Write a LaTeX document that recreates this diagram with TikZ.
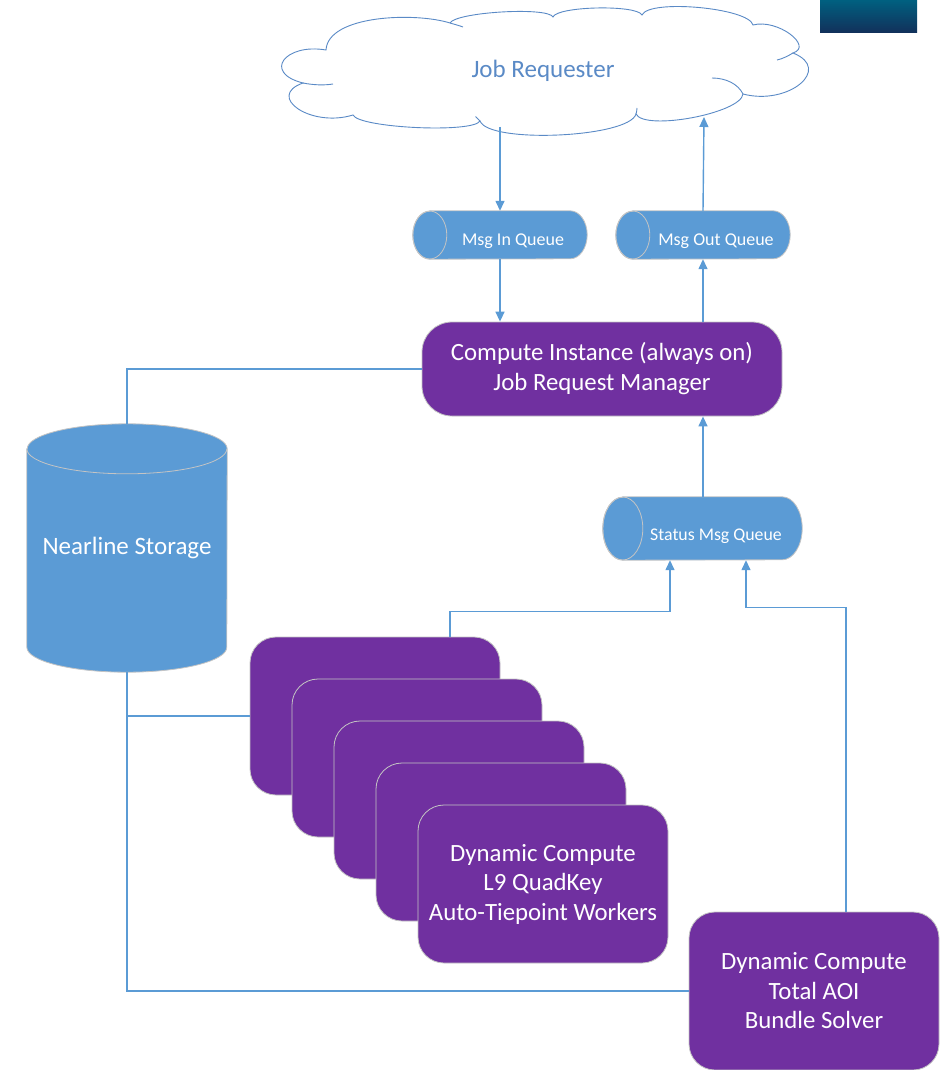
\documentclass[tikz,border=0pt]{standalone}
\usepackage{fontspec}
\setmainfont{Carlito}
\usetikzlibrary{arrows.meta,calc}
\definecolor{cpurple}{HTML}{7030A0}
\definecolor{cblue}{HTML}{5B9BD5}
\definecolor{cline}{HTML}{5B9BD5}
\definecolor{cloudc}{HTML}{5A8AC6}
\definecolor{edgegray}{HTML}{C4C4C4}
\definecolor{logotop}{HTML}{006080}
\definecolor{logobot}{HTML}{12305A}
\newcommand\hqshape[3]{%
  \path[qfill] ([xshift=#2]#1.north west) -- ([xshift=-#2]#1.north east)
    arc[start angle=90,end angle=-90,x radius=#2,y radius=#3]
    -- ([xshift=#2]#1.south west)
    arc[start angle=270,end angle=90,x radius=#2,y radius=#3] -- cycle;
  \draw[edgegray,line width=0.8pt] ([xshift=#2]#1.west) ellipse[x radius=#2,y radius=#3];
}
\begin{document}
\begin{tikzpicture}[x=1pt,y=-1pt,
  conn/.style={draw=cline, line width=1.4pt},
  arr/.style={conn, -{Triangle[width=9pt,length=10pt]}},
  qfill/.style={fill=cblue, draw=edgegray, line width=0.8pt},
  holder/.style={rectangle, draw=none, inner sep=0pt},
  qtext/.style={text=white, font=\fontsize{18}{20}\selectfont, inner sep=0pt},
  cloudline/.style={draw=cloudc, line width=0.9pt},
  pbox/.style={rectangle, rounded corners=26pt, fill=cpurple, draw=edgegray, line width=0.8pt,
    text=white, font=\fontsize{24.8}{29.5}\selectfont, align=center,
    minimum width=250pt, minimum height=158pt, inner sep=0pt},
]
\useasboundingbox (0,0) rectangle (948,1070);

% logo block
\node[rectangle, inner sep=0pt, minimum width=97pt, minimum height=33pt,
  top color=logotop, bottom color=logobot] (logo) at (868.5,16.5) {};

% cloud
\path[cloudline, fill=white] (326,50)
  .. controls (328,15) and (415,12) .. (450,23)
  .. controls (456,12) and (548,6.6) .. (553,17)
  .. controls (556.8,6.2) and (636.8,4.4) .. (642,15)
  .. controls (648.9,-1.2) and (748.8,7.8) .. (753,25)
  .. controls (777.7,18.4) and (813.7,46.4) .. (793,53)
  .. controls (833.2,69) and (788.2,106) .. (743,94)
  .. controls (741,113.3) and (644.6,131.3) .. (636,114)
  .. controls (629.3,137.6) and (488.8,144) .. (480,121)
  .. controls (473,133.4) and (358.9,128) .. (353,115)
  .. controls (310.5,128.1) and (265.5,96.1) .. (303,83)
  .. controls (262.2,72.6) and (285.2,43) .. (326,50) -- cycle;
\draw[cloudline] (303,83) .. controls (313,85) and (324,85.5) .. (333,84);
\draw[cloudline] (450,23) .. controls (455,24.5) and (459,25.5) .. (463,27);
\draw[cloudline] (480,121) .. controls (478,119) and (477,118) .. (475.5,116.5);
\draw[cloudline] (636,114) .. controls (636.5,112) and (637,110) .. (637,108);
\draw[cloudline] (743,94) .. controls (738,84) and (726,78) .. (712,78);
\draw[cloudline] (793,53) .. controls (788,56) and (782,59) .. (777,60);
\node[holder, text=cloudc, font=\fontsize{25}{28}\selectfont] (req) at (543,71) {Job Requester};
\coordinate (reqA) at (500,127);
\coordinate (reqB) at (704,117);

% queues
\node[holder, minimum width=174pt, minimum height=48pt] (qin) at (500,235) {};
\hqshape{qin}{17pt}{24pt}
\node[qtext] (qinlab) at (513,241) {Msg In Queue};

\node[holder, minimum width=174pt, minimum height=48pt] (qout) at (703,235) {};
\hqshape{qout}{17pt}{24pt}
\node[qtext] (qoutlab) at (716,241) {Msg Out Queue};

\node[holder, minimum width=199pt, minimum height=63pt] (status) at (702.5,528.5) {};
\hqshape{status}{20pt}{31.5pt}
\node[qtext, font=\fontsize{17.8}{20}\selectfont] (statuslab) at (716,536) {Status Msg Queue};

% compute instance
\node[pbox, rounded corners=30pt, minimum width=360pt, minimum height=94pt,
  font=\fontsize{24.8}{30}\selectfont] (comp) at (602,369)
  {Compute Instance (always on)\\Job Request Manager};

% nearline storage
\node[holder, minimum width=200pt, minimum height=248pt] (store) at (127,548) {};
\path[fill=cblue, draw=edgegray, line width=0.8pt]
  ([yshift=-25pt]store.north west) -- ([yshift=25pt]store.south west)
  arc[start angle=180,end angle=360,x radius=100pt,y radius=25pt]
  -- ([yshift=-25pt]store.north east)
  arc[start angle=0,end angle=180,x radius=100pt,y radius=25pt] -- cycle;
\draw[edgegray, line width=0.8pt] ([yshift=-25pt]store.north west)
  arc[start angle=180,end angle=360,x radius=100pt,y radius=25pt];
\node[text=white, font=\fontsize{25}{28}\selectfont, inner sep=0pt] (storelab) at (127,548) {Nearline Storage};

% workers stack
\node[pbox] (w1) at (375,716) {};
\node[pbox] (w2) at (417,758) {};
\node[pbox] (w3) at (459,800) {};
\node[pbox] (w4) at (501,842) {};
\node[pbox] (w5) at (543,884) {Dynamic Compute\\L9 QuadKey\\Auto-Tiepoint Workers};

% bundle solver
\node[pbox] (bundle) at (814,991) {Dynamic Compute\\Total AOI\\Bundle Solver};

% connectors
\draw[arr] (reqA) -- (qin.north);
\draw[arr] (qout.north) -- (reqB);
\draw[arr] (qin.south) -- (qin.south |- comp.north);
\draw[arr] (qout.south |- comp.north) -- (qout.south);
\draw[arr] (status.north -| qout.south) -- (qout.south |- comp.south);
\draw[conn] (comp.west) -| (store.north);
\draw[conn] (store.south) |- (bundle.west);
\draw[conn] (store.south |- w1.west) -- (w1.west);
\draw[arr] ([xshift=75pt]w1.north) -- ++(0,-25) -| ([xshift=-32.5pt]status.south);
\draw[arr] ([xshift=32pt]bundle.north) -- ++(0,-304) -| ([xshift=43.5pt]status.south);
\end{tikzpicture}
\end{document}
